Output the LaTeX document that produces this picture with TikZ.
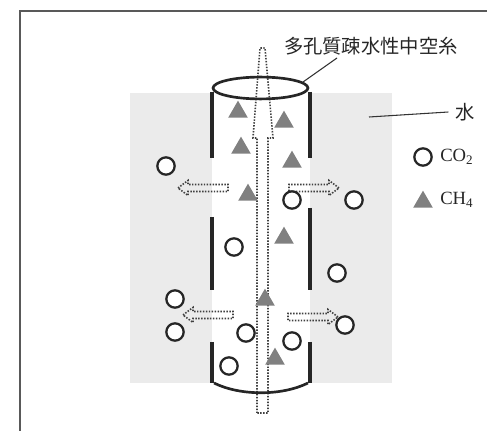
\documentclass[tikz,border=0pt]{standalone}
\usepackage{fontspec}
\setmainfont{Liberation Serif}
\newfontfamily\jpfont{Noto Sans CJK JP}
\usetikzlibrary{shapes.geometric}

\begin{document}
\begin{tikzpicture}[
        x=0.75pt, y=-0.75pt,
        co2/.style={circle, draw=black!85, line width=1.7pt, fill=white, minimum size=13pt, inner sep=0pt},
        ch4/.style={regular polygon, regular polygon sides=3, fill=black!50, minimum size=17pt, inner sep=0pt},
        wall/.style={line width=2.6pt, draw=black!85},
        flow/.style={dash pattern=on 1.1pt off 1.1pt, line width=1.2pt, draw=black!75},
        leader/.style={line width=0.8pt, draw=black!80},
        jlabel/.style={font=\jpfont\fontsize{14.5}{16}\selectfont, text=black!85, inner sep=0pt},
        legend/.style={font=\fontsize{14}{16}\selectfont, text=black!85, anchor=west, inner sep=0pt}
    ]
    \useasboundingbox (0,0) rectangle (487,431);

    % frame
    \draw[black!65, line width=1.1pt] (20,431) -- (20,11) -- (487,11);

    % water and the inside of the fibre
    \fill[black!8] (130,93) rectangle (392,383);
    \fill[white] (212,88) rectangle (310,383);

    % gas flow up the fibre
    \draw[flow] (257,413) -- (257,138) -- (253,138) -- (260,48) -- (265,48)
        -- (273,138) -- (268,138) -- (268,413) -- cycle;

    % gas leaving through the pores
    \foreach \tx/\ty/\dir in {178/188/1, 339/188/-1, 183/315/1, 338/317/-1}
        \draw[flow, shift={(\tx,\ty)}, xscale=\dir]
            (0,0) -- (10,-7.5) -- (10,-3.5) -- (50,-3.5) -- (50,3.5)
            -- (10,3.5) -- (10,7.5) -- cycle;

    % porous wall
    \draw[wall] (212,92) -- (212,158)  (212,217) -- (212,290)  (212,342) -- (212,383);
    \draw[wall] (310,92) -- (310,158)  (310,208) -- (310,290)  (310,342) -- (310,383);
    \draw[wall, line width=2pt] (260.5,88) ellipse [x radius=35.6pt, y radius=8.2pt];
    \draw[wall, line width=2pt] (214,383) .. controls (240,396) and (282,396) .. (308,383);

    % CO2
    \foreach \x/\y [count=\i] in {166/166, 292/200, 354/200, 234/247, 337/273,
                                 175/299, 175/332, 246/333, 292/341, 345/325, 229/366}
        \node[co2] (co\i) at (\x,\y) {};

    % CH4
    \foreach \x/\y [count=\i] in {238/112, 284/122, 241/148, 292/162, 248/195,
                                 284/238, 265/300, 275/359}
        \node[ch4] (ch\i) at (\x,\y) {};

    % labels
    \node[jlabel] (fiber) at (371,46) {多孔質疎水性中空糸};
    \coordinate (rim) at (303,82);
    \coordinate (fibertip) at (337,58);
    \draw[leader] (rim) -- (fibertip);

    \node[jlabel] (water) at (465,112) {水};
    \coordinate (pool) at (369,117);
    \draw[leader] (pool) -- ([xshift=-5pt]water.west);

    % legend
    \node[co2] (keyco) at (423,157) {};
    \node[legend] (keycotext) at (440,157) {CO\textsubscript{2}};
    \node[ch4] (keych) at (423,202) {};
    \node[legend] (keychtext) at (440,200) {CH\textsubscript{4}};
\end{tikzpicture}
\end{document}
